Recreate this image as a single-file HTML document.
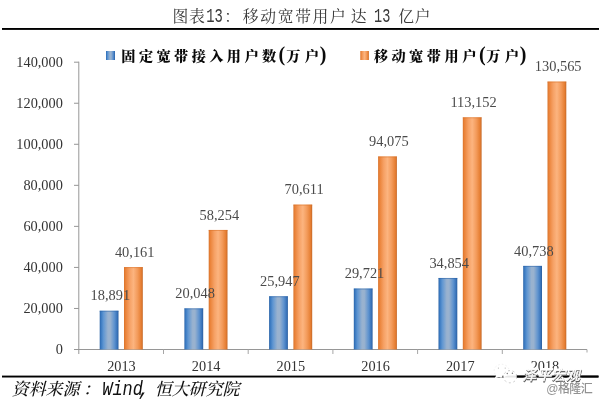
<!DOCTYPE html>
<html lang="zh"><head><meta charset="utf-8"><title>图表13：移动宽带用户达 13 亿户</title>
<style>html,body{margin:0;padding:0;background:#fff;}svg{display:block;}.kai{font-family:"Liberation Serif","Noto Serif CJK SC",serif;}.mono{font-family:"Liberation Mono",monospace;}.num{font-family:"Liberation Serif","Noto Serif CJK SC",serif;}.hei{font-family:"Liberation Sans","Noto Sans CJK SC",sans-serif;}</style></head><body>
<svg width="600" height="401" viewBox="0 0 600 401" style="will-change:transform">
<defs>
<linearGradient id="gb" x1="0" y1="0" x2="1" y2="0"><stop offset="0" stop-color="#2a62a5"/><stop offset="0.06" stop-color="#3878c0"/><stop offset="0.2" stop-color="#5f96d2"/><stop offset="0.44" stop-color="#99b2cf"/><stop offset="0.56" stop-color="#99b2cf"/><stop offset="0.78" stop-color="#5f93cf"/><stop offset="0.93" stop-color="#3873ba"/><stop offset="1" stop-color="#2a5c9b"/></linearGradient>
<linearGradient id="go" x1="0" y1="0" x2="1" y2="0"><stop offset="0" stop-color="#d8732c"/><stop offset="0.08" stop-color="#ea8238"/><stop offset="0.30" stop-color="#f6a165"/><stop offset="0.50" stop-color="#fcb47f"/><stop offset="0.72" stop-color="#f39b5b"/><stop offset="0.92" stop-color="#e57d31"/><stop offset="1" stop-color="#c36727"/></linearGradient>
</defs>
<rect width="600" height="401" fill="#ffffff"/>
<text class="kai" y="22" font-size="15.8" fill="#3a3a3a"><tspan x="172.5" letter-spacing="0.6">图表</tspan><tspan class="mono" x="206.3" font-size="19.5" textLength="16.6" lengthAdjust="spacingAndGlyphs">13</tspan><tspan x="224.2">：</tspan><tspan x="242.8" letter-spacing="1.65">移动宽带用户</tspan><tspan x="350.8">达</tspan><tspan class="mono" x="366" font-size="19.5" textLength="32.5" lengthAdjust="spacingAndGlyphs"> 13 </tspan><tspan x="398.2" letter-spacing="0.7">亿户</tspan></text>
<rect x="2" y="28" width="597" height="1.9" fill="#000"/>
<rect x="2" y="375.6" width="596.5" height="1.9" fill="#000"/>
<g stroke="#969696" stroke-width="1" fill="none" shape-rendering="auto">
<line x1="78.8" y1="61.7" x2="78.8" y2="354.0"/>
<line x1="74.0" y1="349.5" x2="587.0" y2="349.5"/>
<line x1="74.0" y1="308.46" x2="78.8" y2="308.46"/>
<line x1="74.0" y1="267.41" x2="78.8" y2="267.41"/>
<line x1="74.0" y1="226.37" x2="78.8" y2="226.37"/>
<line x1="74.0" y1="185.33" x2="78.8" y2="185.33"/>
<line x1="74.0" y1="144.29" x2="78.8" y2="144.29"/>
<line x1="74.0" y1="103.24" x2="78.8" y2="103.24"/>
<line x1="74.0" y1="62.20" x2="78.8" y2="62.20"/>
<line x1="163.50" y1="349.5" x2="163.50" y2="354.0" stroke="#a6a6a6"/>
<line x1="248.20" y1="349.5" x2="248.20" y2="354.0" stroke="#a6a6a6"/>
<line x1="332.90" y1="349.5" x2="332.90" y2="354.0" stroke="#a6a6a6"/>
<line x1="417.60" y1="349.5" x2="417.60" y2="354.0" stroke="#a6a6a6"/>
<line x1="502.30" y1="349.5" x2="502.30" y2="354.0" stroke="#a6a6a6"/>
<line x1="587.00" y1="349.5" x2="587.00" y2="352.5" stroke="#a6a6a6"/>
</g>
<g class="num" font-size="14.3" fill="#333" text-anchor="end">
<text x="62.8" y="354.20">0</text>
<text x="62.8" y="313.16">20,000</text>
<text x="62.8" y="272.11">40,000</text>
<text x="62.8" y="231.07">60,000</text>
<text x="62.8" y="190.03">80,000</text>
<text x="62.8" y="148.99">100,000</text>
<text x="62.8" y="107.94">120,000</text>
<text x="62.8" y="66.90">140,000</text>
</g>
<rect x="99.70" y="310.73" width="18.8" height="38.77" fill="url(#gb)"/>
<rect x="99.70" y="310.73" width="18.8" height="1" fill="#2b64a8" opacity="0.55"/>
<rect x="124.00" y="267.08" width="18.8" height="82.42" fill="url(#go)"/>
<rect x="124.00" y="267.08" width="18.8" height="1" fill="#d8732c" opacity="0.55"/>
<rect x="184.40" y="308.36" width="18.8" height="41.14" fill="url(#gb)"/>
<rect x="184.40" y="308.36" width="18.8" height="1" fill="#2b64a8" opacity="0.55"/>
<rect x="208.70" y="229.95" width="18.8" height="119.55" fill="url(#go)"/>
<rect x="208.70" y="229.95" width="18.8" height="1" fill="#d8732c" opacity="0.55"/>
<rect x="269.10" y="296.25" width="18.8" height="53.25" fill="url(#gb)"/>
<rect x="269.10" y="296.25" width="18.8" height="1" fill="#2b64a8" opacity="0.55"/>
<rect x="293.40" y="204.60" width="18.8" height="144.90" fill="url(#go)"/>
<rect x="293.40" y="204.60" width="18.8" height="1" fill="#d8732c" opacity="0.55"/>
<rect x="353.80" y="288.51" width="18.8" height="60.99" fill="url(#gb)"/>
<rect x="353.80" y="288.51" width="18.8" height="1" fill="#2b64a8" opacity="0.55"/>
<rect x="378.10" y="156.44" width="18.8" height="193.06" fill="url(#go)"/>
<rect x="378.10" y="156.44" width="18.8" height="1" fill="#d8732c" opacity="0.55"/>
<rect x="438.50" y="277.97" width="18.8" height="71.53" fill="url(#gb)"/>
<rect x="438.50" y="277.97" width="18.8" height="1" fill="#2b64a8" opacity="0.55"/>
<rect x="462.80" y="117.30" width="18.8" height="232.20" fill="url(#go)"/>
<rect x="462.80" y="117.30" width="18.8" height="1" fill="#d8732c" opacity="0.55"/>
<rect x="523.20" y="265.90" width="18.8" height="83.60" fill="url(#gb)"/>
<rect x="523.20" y="265.90" width="18.8" height="1" fill="#2b64a8" opacity="0.55"/>
<rect x="547.50" y="81.56" width="18.8" height="267.94" fill="url(#go)"/>
<rect x="547.50" y="81.56" width="18.8" height="1" fill="#d8732c" opacity="0.55"/>
<g class="num" font-size="14.4" fill="#4a4a4a" text-anchor="middle">
<text x="110.40" y="300.33">18,891</text>
<text x="134.70" y="256.68">40,161</text>
<text x="195.10" y="297.96">20,048</text>
<text x="219.40" y="219.55">58,254</text>
<text x="279.80" y="285.85">25,947</text>
<text x="304.10" y="194.20">70,611</text>
<text x="364.50" y="278.11">29,721</text>
<text x="388.80" y="146.04">94,075</text>
<text x="449.20" y="267.57">34,854</text>
<text x="473.50" y="106.90">113,152</text>
<text x="533.90" y="255.50">40,738</text>
<text x="558.20" y="71.16">130,565</text>
</g>
<g class="num" font-size="14.3" fill="#333" text-anchor="middle">
<text x="121.45" y="371.3">2013</text>
<text x="206.15" y="371.3">2014</text>
<text x="290.85" y="371.3">2015</text>
<text x="375.55" y="371.3">2016</text>
<text x="460.25" y="371.3">2017</text>
<text x="544.95" y="371.3">2018</text>
</g>
<rect x="106" y="51" width="9" height="9" fill="url(#gb)"/>
<text class="kai" y="61.4" font-size="14.2" font-weight="900" fill="#0a0a0a"><tspan x="121.3" letter-spacing="3.4">固定宽带接入用户数</tspan><tspan x="278.4" font-size="20" dy="-0.2">(</tspan><tspan x="286.3" dy="0.2" letter-spacing="4.2">万户</tspan><tspan x="319.8" font-size="20" dy="-0.2">)</tspan></text>
<rect x="360.3" y="51" width="8.6" height="9" fill="url(#go)"/>
<text class="kai" y="61.4" font-size="14.2" font-weight="900" fill="#0a0a0a"><tspan x="373.7" letter-spacing="3.5">移动宽带用户</tspan><tspan x="479" font-size="20" dy="-0.2">(</tspan><tspan x="486.3" dy="0.2" letter-spacing="4.2">万户</tspan><tspan x="519.8" font-size="20" dy="-0.2">)</tspan></text>
<text class="kai" font-size="17" font-weight="500" font-style="italic" fill="#111" y="394.6"><tspan x="11.8" letter-spacing="-0.1">资料来源</tspan><tspan x="83">：</tspan><tspan class="mono" x="102.3" font-size="19.5" font-weight="400" textLength="40.6" lengthAdjust="spacingAndGlyphs">Wind</tspan><tspan class="mono" x="138.5" font-size="19.5" font-weight="400">, </tspan><tspan x="154.8" letter-spacing="-0.1">恒大研究院</tspan></text>
<g>
<ellipse cx="501.6" cy="370.9" rx="7.5" ry="6.6" fill="#fff" stroke="#e4e4e4" stroke-width="0.6" stroke-dasharray="1.5 2.2"/>
<path d="M496.6 374.6 L494.6 378.6 L499.6 376.8 Z" fill="#fff"/>
<rect x="502.4" y="375.7" width="1.2" height="1.7" fill="#1a1a1a"/>
<ellipse cx="510.1" cy="376.7" rx="6.7" ry="6.1" fill="#fff" fill-opacity="0.9" stroke="#a8a8a8" stroke-width="0.6" stroke-dasharray="2 2.6"/>
<circle cx="507.3" cy="373.5" r="0.7" fill="#777"/><circle cx="512.4" cy="373.3" r="0.7" fill="#777"/>
<circle cx="498.4" cy="368.1" r="0.6" fill="#b5b5b5"/><circle cx="505.2" cy="368.1" r="0.6" fill="#b5b5b5"/>
</g>
<g class="hei" font-size="13.8" font-style="italic">
<text x="522.6" y="380.4" fill="#fff" stroke="#fff" stroke-width="2.6" stroke-linejoin="round" textLength="57.4">泽平宏观</text>
<rect x="517" y="375.6" width="81.5" height="1.9" fill="#000"/>
<text x="522.9" y="380.7" fill="#5c5c5c" stroke="#5c5c5c" stroke-width="0.9" stroke-linejoin="round" textLength="57.4">泽平宏观</text>
<text x="522.6" y="380.4" fill="#fff" stroke="#fff" stroke-width="0.45" textLength="57.4">泽平宏观</text>
</g>
<text class="hei" x="546.3" y="393.3" font-size="12" font-weight="500" fill="#929292" textLength="46.5">@格隆汇</text>
</svg></body></html>
